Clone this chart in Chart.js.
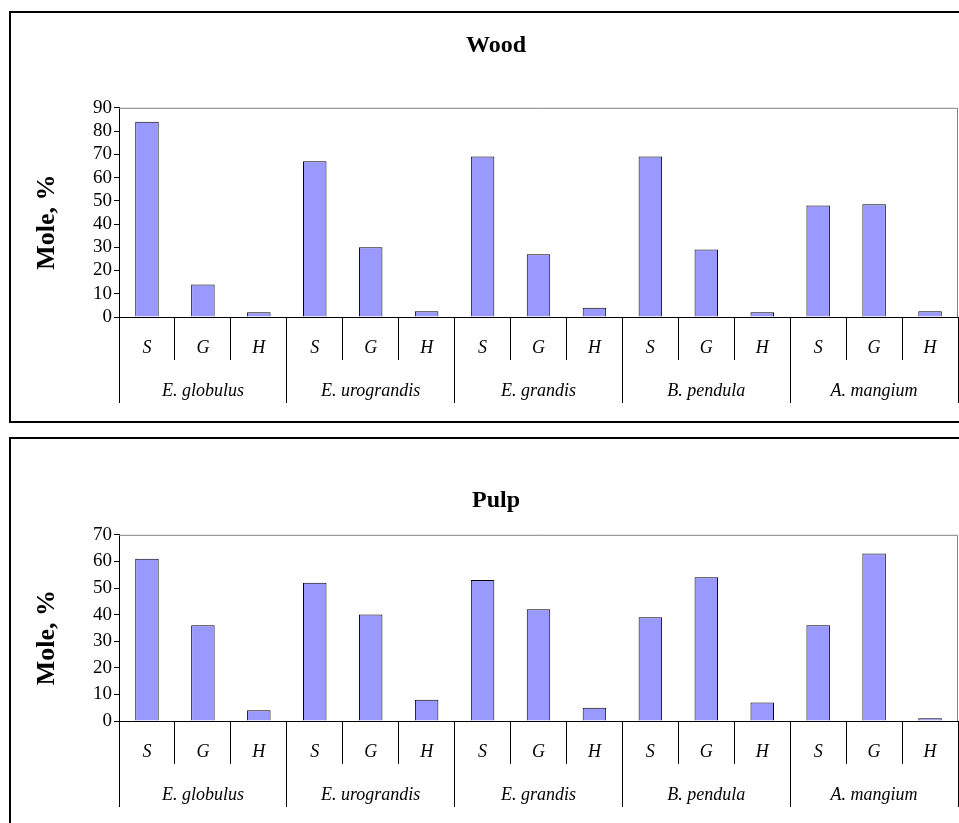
<!DOCTYPE html>
<html>
<head>
<meta charset="utf-8">
<script src="https://cdn.jsdelivr.net/npm/chart.js@4.4.1/dist/chart.umd.min.js"></script>
<style>
  html, body { margin: 0; padding: 0; background: #fff; overflow: hidden; width: 959px; height: 823px; }
  .box { position: absolute; left: 9px; border: 2px solid #000; background: #fff; }
  #boxWood { top: 11px; }
  #boxPulp { top: 437px; }
  canvas { display: block; }
</style>
</head>
<body>
<div class="box" id="boxWood"><canvas id="woodChart" width="970" height="408"></canvas></div>
<div class="box" id="boxPulp"><canvas id="pulpChart" width="970" height="386"></canvas></div>
<script>
// species groups and the three lignin units inside each
const species = ["E. globulus", "E. urograndis", "E. grandis", "B. pendula", "A. mangium"];
const units = ["S", "G", "H"];
// mole %, in order S,G,H per species
const woodValues = [84, 14, 2, 67, 30, 2.5, 69, 27, 4, 69, 29, 2, 48, 48.5, 2.5];
const pulpValues = [61, 36, 4, 52, 40, 8, 53, 42, 5, 39, 54, 7, 36, 63, 1];
const woodTicks = [0, 10, 20, 30, 40, 50, 60, 70, 80, 90];
const pulpTicks = [0, 10, 20, 30, 40, 50, 60, 70];

const serif = "'Liberation Serif', 'Times New Roman', serif";
const unitLabels = [];
species.forEach(() => units.forEach(u => unitLabels.push(u)));

// gray top/right frame of the plot area
const plotFrame = {
  id: "plotFrame",
  beforeDatasetsDraw(chart) {
    const a = chart.chartArea, ctx = chart.ctx;
    ctx.save();
    ctx.strokeStyle = "#808080";
    ctx.lineWidth = 1;
    ctx.beginPath();
    ctx.moveTo(a.left, a.top + 0.5);
    ctx.lineTo(a.right - 0.5, a.top + 0.5);
    ctx.lineTo(a.right - 0.5, a.bottom);
    ctx.stroke();
    ctx.restore();
  }
};

const makeChart = (id, title, values, ticks, titlePad) => {
  const ctx = document.getElementById(id);
  return new Chart(ctx, {
    type: "bar",
    data: {
      labels: unitLabels,
      datasets: [{
        data: values,
        backgroundColor: "#9999FF",
        borderColor: "#000000",
        borderWidth: 1,
        categoryPercentage: 1,
        barPercentage: 0.42
      }]
    },
    plugins: [plotFrame],
    options: {
      responsive: false,
      animation: false,
      devicePixelRatio: 1,
      layout: { padding: { left: 0, right: 0, top: 0, bottom: 18 } },
      plugins: {
        legend: { display: false },
        tooltip: { enabled: false },
        title: {
          display: true,
          text: title,
          color: "#000",
          font: { family: serif, size: 24, weight: "bold" },
          padding: titlePad
        }
      },
      scales: {
        y: {
          min: 0,
          max: ticks[ticks.length - 1],
          afterBuildTicks: (axis) => { axis.ticks = ticks.map(v => ({ value: v })); },
          afterFit: (axis) => { axis.width = 108; },
          border: { display: true, color: "#000", width: 1 },
          grid: { drawOnChartArea: false, drawTicks: true, tickLength: 5, color: "#000" },
          ticks: { color: "#000", padding: 2, autoSkip: false, font: { family: serif, size: 19 } },
          title: {
            display: true,
            text: "Mole, %   ",
            color: "#000",
            font: { family: serif, size: 26, weight: "bold" },
            padding: { top: 21, bottom: 0 }
          }
        },
        // empty right-hand strip so the plot stops at the window edge
        yRight: {
          position: "right",
          afterFit: (axis) => { axis.width = 23; },
          border: { display: false },
          grid: { display: false },
          ticks: { display: false }
        },
        x: {
          offset: true,
          afterFit: (axis) => { axis.height = 43; },
          border: { display: true, color: "#000", width: 1 },
          grid: { offset: true, drawOnChartArea: false, drawTicks: true, tickLength: 43, color: "#000" },
          ticks: { color: "#000", padding: -23, maxRotation: 0, autoSkip: false, font: { family: serif, size: 18, style: "italic" } }
        },
        x2: {
          type: "category",
          position: "bottom",
          labels: species,
          offset: true,
          afterFit: (axis) => { axis.height = 43; },
          border: { display: false },
          grid: { offset: true, drawOnChartArea: false, drawTicks: true, tickLength: 43, color: "#000" },
          ticks: { color: "#000", padding: -23, maxRotation: 0, autoSkip: false, font: { family: serif, size: 18, style: "italic" } }
        }
      }
    }
  });
};

makeChart("woodChart", "Wood", woodValues, woodTicks, { top: 18, bottom: 48 });
makeChart("pulpChart", "Pulp", pulpValues, pulpTicks, { top: 47, bottom: 20 });
</script>
</body>
</html>
